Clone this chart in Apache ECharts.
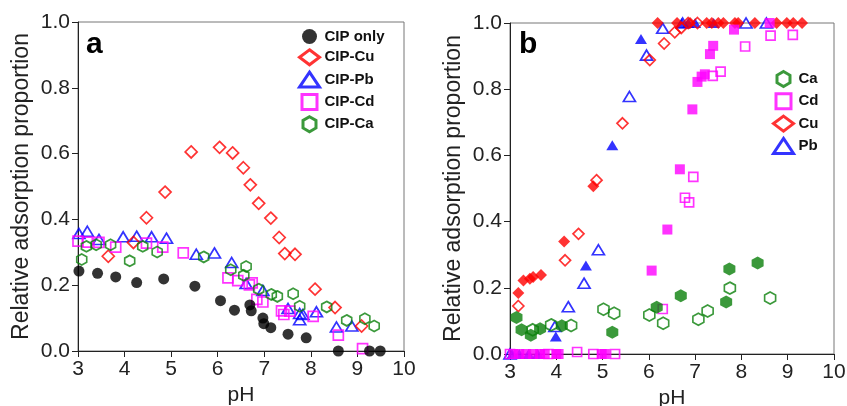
<!DOCTYPE html>
<html>
<head>
<meta charset="utf-8">
<script src="https://cdn.jsdelivr.net/npm/echarts@6/dist/echarts.min.js"></script>
<style>
  html, body { margin: 0; padding: 0; background: #fff; }
  #chart { width: 847px; height: 406px; }
</style>
</head>
<body>
<div id="chart"></div>
<script>
const chart = echarts.init(document.getElementById('chart'));
const FONT = '"Liberation Sans", Arial, sans-serif';

// panel a: CIP adsorption, [pH, proportion]
const cipOnly = [[3.02,0.243],[3.42,0.236],[3.81,0.225],[4.26,0.208],[4.84,0.219],[5.51,0.197],[6.06,0.153],[6.36,0.124],[6.69,0.140],[6.72,0.122],[6.97,0.100],[6.99,0.083],[7.14,0.071],[7.51,0.051],[7.90,0.040],[8.59,0],[9.26,0],[9.49,0]];
const cipCu = [[3.65,0.288],[4.19,0.330],[4.47,0.405],[4.87,0.483],[5.43,0.605],[6.04,0.619],[6.32,0.602],[6.55,0.557],[6.70,0.505],[6.88,0.449],[7.14,0.404],[7.32,0.345],[7.44,0.296],[7.66,0.294],[8.09,0.188],[8.52,0.132],[9.09,0.076]];
const cipPb = [[3.02,0.357],[3.20,0.364],[3.45,0.339],[3.97,0.347],[4.26,0.349],[4.58,0.347],[4.90,0.343],[5.54,0.294],[5.93,0.298],[6.30,0.269],[6.61,0.205],[6.97,0.184],[7.51,0.129],[7.76,0.114],[7.76,0.095],[7.83,0.111],[8.12,0.119],[8.55,0.073],[8.88,0.076]];
const cipCd = [[3.00,0.334],[3.20,0.331],[3.45,0.330],[3.81,0.316],[4.47,0.328],[4.82,0.316],[5.26,0.298],[6.22,0.222],[6.43,0.214],[6.68,0.201],[6.74,0.207],[6.84,0.157],[6.97,0.149],[7.37,0.122],[7.42,0.111],[7.55,0.121],[8.05,0.105],[8.59,0.048],[9.11,0.007]];
const cipCa = [[3.08,0.278],[3.18,0.318],[3.39,0.323],[3.70,0.323],[4.11,0.274],[4.39,0.318],[4.70,0.301],[5.70,0.286],[6.28,0.247],[6.56,0.230],[6.61,0.257],[6.88,0.188],[7.15,0.172],[7.28,0.166],[7.62,0.174],[7.76,0.136],[8.34,0.134],[8.77,0.093],[9.16,0.098],[9.36,0.076]];

// panel b: metal adsorption, solid and open markers
const cuSolid = [[3.18,0.184],[3.29,0.222],[3.43,0.227],[3.50,0.233],[3.67,0.239],[4.17,0.340],[4.80,0.507],[6.19,1],[6.61,1],[6.89,1],[7.25,1],[7.36,1],[7.50,1],[7.61,1],[7.86,1],[7.93,1],[8.29,1],[8.76,1],[8.98,1],[9.12,1],[9.31,1]];
const cuOpen = [[3.18,0.145],[4.19,0.283],[4.48,0.363],[4.87,0.525],[5.43,0.697],[6.02,0.888],[6.33,0.938],[6.56,0.972],[6.70,0.985],[6.85,1],[7.05,1]];
const pbSolid = [[3.05,0],[3.20,0],[3.40,0],[3.60,0],[3.99,0.053],[4.64,0.267],[5.21,0.631],[5.83,0.952],[6.71,1],[6.85,1],[7.00,1],[7.40,1]];
const pbOpen = [[3.00,0],[3.97,0.083],[4.26,0.143],[4.60,0.214],[4.91,0.315],[5.58,0.778],[5.95,0.903],[6.30,0.984],[6.73,1],[8.10,1],[8.54,1]];
const cdSolid = [[3.07,0],[3.20,0],[3.35,0],[3.50,0],[3.65,0],[3.75,0],[4.00,0],[4.05,0],[4.98,0],[5.05,0],[6.06,0.252],[6.40,0.376],[6.67,0.558],[6.94,0.739],[7.05,0.822],[7.14,0.838],[7.21,0.845],[7.32,0.906],[7.39,0.931],[7.84,0.980],[8.61,1]];
const cdOpen = [[3.00,0],[3.83,0],[4.45,0.006],[4.80,0],[5.27,0],[6.30,0.136],[6.78,0.472],[6.87,0.458],[6.96,0.535],[7.38,0.840],[7.55,0.853],[8.08,0.929],[8.63,0.962],[9.11,0.964]];
const caSolid = [[3.14,0.110],[3.25,0.073],[3.45,0.057],[3.65,0.076],[4.12,0.085],[5.21,0.066],[6.17,0.141],[6.69,0.176],[7.67,0.157],[7.74,0.257],[8.35,0.275]];
const caOpen = [[3.49,0.073],[3.89,0.088],[4.32,0.086],[5.02,0.135],[5.25,0.123],[6.01,0.118],[6.31,0.093],[7.07,0.105],[7.27,0.130],[7.75,0.199],[8.62,0.169]];

const RED = '#ff0000', BLUE = '#0000ff', PINK = '#ff00ff', GREEN = '#0a800a';
const HEX = 'path://M0,-10L8.66,-5L8.66,5L0,10L-8.66,5L-8.66,-5Z';
const SQUARE = 'path://M0,0L10,0L10,10L0,10Z';

function dots(name, data, grid, symbol, size, color, open) {
  return {
    type: 'scatter', name, data, xAxisIndex: grid, yAxisIndex: grid,
    symbol, symbolSize: size, clip: false,
    itemStyle: open
      ? { color: 'rgba(0,0,0,0)', borderColor: color, borderWidth: 1.7 }
      : { color },
    emphasis: { disabled: true }
  };
}

function xAxis(grid) {
  return {
    gridIndex: grid, type: 'value', min: 3, max: 10, interval: 1,
    name: 'pH', nameLocation: 'middle', nameGap: 31,
    nameTextStyle: { fontSize: 21, color: '#222', fontFamily: FONT },
    axisLine: { lineStyle: { color: '#222', width: 1 } },
    axisTick: { length: 6, lineStyle: { color: '#222' } },
    axisLabel: { fontSize: 21, color: '#222', fontFamily: FONT, margin: 8 },
    splitLine: { show: false }
  };
}
function yAxis(grid) {
  return {
    gridIndex: grid, type: 'value', min: 0, max: 1, interval: 0.2,
    name: 'Relative adsorption proportion', nameLocation: 'middle', nameGap: 45,
    nameTextStyle: { fontSize: 23, color: '#222', fontFamily: FONT },
    axisLine: { lineStyle: { color: '#222', width: 1 } },
    axisTick: { length: 6, lineStyle: { color: '#222' } },
    axisLabel: { fontSize: 21, color: '#222', fontFamily: FONT, margin: 8, formatter: v => v.toFixed(1) },
    splitLine: { show: false }
  };
}

function legendItem(name, icon, color, open) {
  return {
    name, icon,
    itemStyle: open
      ? { color: 'rgba(0,0,0,0)', borderColor: color, borderWidth: 3 }
      : { color, borderWidth: 0 }
  };
}
const legendText = { fontSize: 15, fontWeight: 'bold', color: '#111', fontFamily: FONT };

chart.setOption({
  animation: false,
  grid: [
    { left: 78, right: 443, top: 22, bottom: 55, show: true, borderColor: '#777', borderWidth: 1, outerBoundsMode: 'none' },
    { left: 510, right: 13, top: 23, bottom: 52, show: true, borderColor: '#777', borderWidth: 1, outerBoundsMode: 'none' }
  ],
  xAxis: [xAxis(0), xAxis(1)],
  yAxis: [yAxis(0), yAxis(1)],
  legend: [
    {
      orient: 'vertical', left: 293, top: 24, itemWidth: 20, itemHeight: 15, itemGap: 4.3,
      selectedMode: false, textStyle: legendText,
      data: [
        legendItem('CIP only', 'circle', '#000', false),
        legendItem('CIP-Cu', 'diamond', RED, true),
        legendItem('CIP-Pb', 'triangle', BLUE, true),
        legendItem('CIP-Cd', SQUARE, PINK, true),
        legendItem('CIP-Ca', HEX, GREEN, true)
      ]
    },
    {
      orient: 'vertical', left: 767, top: 65, itemWidth: 20, itemHeight: 15, itemGap: 4.3,
      selectedMode: false, textStyle: legendText,
      data: [
        legendItem('Ca', HEX, GREEN, true),
        legendItem('Cd', SQUARE, PINK, true),
        legendItem('Cu', 'diamond', RED, true),
        legendItem('Pb', 'triangle', BLUE, true)
      ]
    }
  ],
  graphic: [
    { type: 'text', left: 86, top: 30, style: { text: 'a', font: 'bold 30px ' + FONT, fill: '#000' } },
    { type: 'text', left: 519, top: 30, style: { text: 'b', font: 'bold 30px ' + FONT, fill: '#000' } }
  ],
  series: [
    dots('CIP-Pb', cipPb, 0, 'triangle', [12, 10], BLUE, true),
    dots('CIP-Cu', cipCu, 0, 'diamond', [12, 12], RED, true),
    dots('CIP-Cd', cipCd, 0, 'rect', [10, 10], PINK, true),
    dots('CIP-Ca', cipCa, 0, HEX, [10, 11], GREEN, true),
    dots('CIP only', cipOnly, 0, 'circle', 11, '#000', false),

    dots('Pb', pbOpen, 1, 'triangle', [12, 10], BLUE, true),
    dots('Pb (solid)', pbSolid, 1, 'triangle', [12, 10], BLUE, false),
    dots('Cu', cuOpen, 1, 'diamond', [11, 11], RED, true),
    dots('Cu (solid)', cuSolid, 1, 'diamond', [12, 12], RED, false),
    dots('Cd', cdOpen, 1, 'rect', [9, 9], PINK, true),
    dots('Cd (solid)', cdSolid, 1, 'rect', [10, 10], PINK, false),
    dots('Ca', caOpen, 1, HEX, [11, 12], GREEN, true),
    dots('Ca (solid)', caSolid, 1, HEX, [12, 13], GREEN, false)
  ]
});
</script>
</body>
</html>
